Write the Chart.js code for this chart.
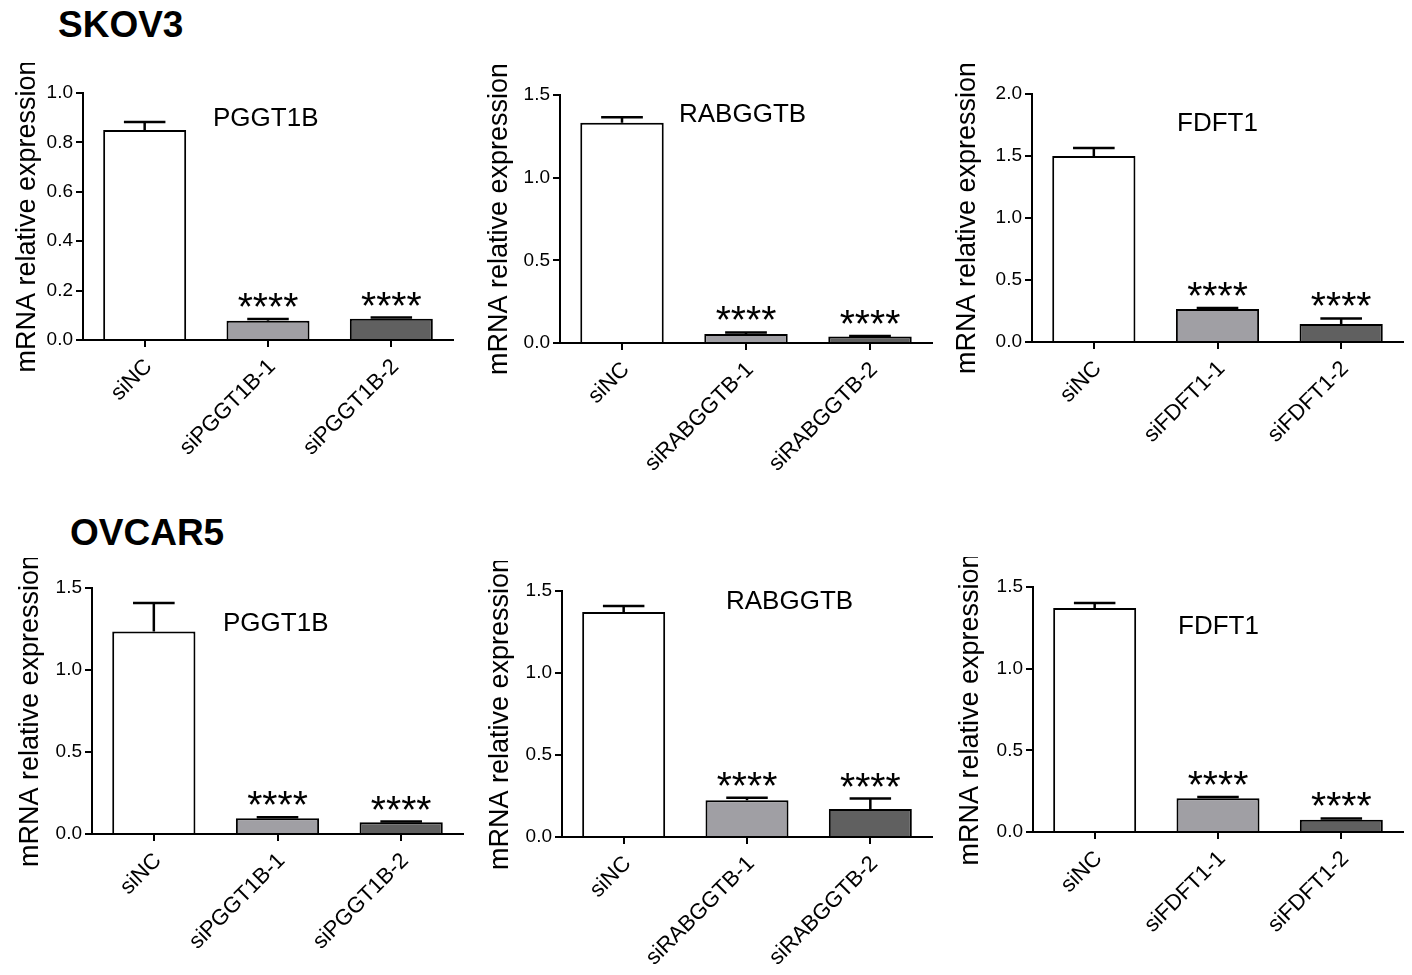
<!DOCTYPE html>
<html>
<head>
<meta charset="utf-8">
<script src="https://cdn.jsdelivr.net/npm/chart.js@4.4.1/dist/chart.umd.min.js"></script>
<style>
  body { margin: 0; width: 1412px; height: 975px; overflow: hidden; background: #fff; position: relative;
         font-family: "Liberation Sans", Arial, sans-serif; }
  canvas { position: absolute; }
  .row-title { position: absolute; font-weight: bold; font-size: 37px; line-height: 37px; color: #000; }
</style>
</head>
<body>
<div class="row-title" style="left:58px;top:6px">SKOV3</div>
<div class="row-title" style="left:70px;top:514px">OVCAR5</div>
<script>
// data
const labelsPGGT1B = ['siNC', 'siPGGT1B-1', 'siPGGT1B-2'];
const labelsRABGGTB = ['siNC', 'siRABGGTB-1', 'siRABGGTB-2'];
const labelsFDFT1 = ['siNC', 'siFDFT1-1', 'siFDFT1-2'];
const stars = ['', '****', '****'];

const skov3PGGT1B = [0.85, 0.078, 0.086];
const skov3PGGT1BErr = [0.033, 0.007, 0.005];
const skov3RABGGTB = [1.332, 0.054, 0.040];
const skov3RABGGTBErr = [0.033, 0.010, 0.003];
const skov3FDFT1 = [1.50, 0.267, 0.146];
const skov3FDFT1Err = [0.064, 0.008, 0.044];

const ovcar5PGGT1B = [1.235, 0.096, 0.071];
const ovcar5PGGT1BErr = [0.173, 0.006, 0.005];
const ovcar5RABGGTB = [1.372, 0.224, 0.171];
const ovcar5RABGGTBErr = [0.036, 0.016, 0.063];
const ovcar5FDFT1 = [1.372, 0.206, 0.075];
const ovcar5FDFT1Err = [0.030, 0.008, 0.008];

const yMaxes = [1.0, 1.5, 2.0, 1.5, 1.5, 1.5];
const ySteps = [0.2, 0.5, 0.5, 0.5, 0.5, 0.5];

Chart.defaults.font.family = '"Liberation Sans", Arial, sans-serif';
Chart.defaults.color = '#000';

const barColors = ['#ffffff', '#a09fa4', '#606060'];
const PAD_TOP = 30, PAD_RIGHT = 4, X_HEIGHT = 160;

// panel geometry (pixels on the page)
const panels = [
  { gene: 'PGGT1B',  labels: labelsPGGT1B,  values: skov3PGGT1B,   errors: skov3PGGT1BErr,   left: 11,  axisX: 83,  yTop: 93,  yBottom: 340, xEnd: 453,  geneDx: 130, geneDy: 33 },
  { gene: 'RABGGTB', labels: labelsRABGGTB, values: skov3RABGGTB,  errors: skov3RABGGTBErr,  left: 483, axisX: 560, yTop: 95,  yBottom: 343, xEnd: 932,  geneDx: 119, geneDy: 27 },
  { gene: 'FDFT1',   labels: labelsFDFT1,   values: skov3FDFT1,    errors: skov3FDFT1Err,    left: 951, axisX: 1032, yTop: 94, yBottom: 342, xEnd: 1403, geneDx: 145, geneDy: 37 },
  { gene: 'PGGT1B',  labels: labelsPGGT1B,  values: ovcar5PGGT1B,  errors: ovcar5PGGT1BErr,  left: 14,  axisX: 92,  yTop: 588, yBottom: 834, xEnd: 463,  geneDx: 131, geneDy: 43 },
  { gene: 'RABGGTB', labels: labelsRABGGTB, values: ovcar5RABGGTB, errors: ovcar5RABGGTBErr, left: 484, axisX: 562, yTop: 591, yBottom: 837, xEnd: 932,  geneDx: 164, geneDy: 18 },
  { gene: 'FDFT1',   labels: labelsFDFT1,   values: ovcar5FDFT1,   errors: ovcar5FDFT1Err,   left: 954, axisX: 1033, yTop: 587, yBottom: 832, xEnd: 1403, geneDx: 145, geneDy: 47 },
];

const errorBars = {
  id: 'errorBars',
  afterDatasetsDraw(chart) {
    const ctx = chart.ctx, y = chart.scales.y;
    const ds = chart.data.datasets[0];
    chart.getDatasetMeta(0).data.forEach((bar, i) => {
      const top = y.getPixelForValue(ds.data[i] + ds.errors[i]);
      const cap = bar.width * 0.5 / 2;
      ctx.save();
      ctx.strokeStyle = '#000';
      ctx.lineWidth = 2.5;
      ctx.beginPath();
      ctx.moveTo(bar.x, bar.y);
      ctx.lineTo(bar.x, top);
      ctx.moveTo(bar.x - cap, top);
      ctx.lineTo(bar.x + cap, top);
      ctx.stroke();
      if (ds.stars[i]) {
        ctx.fillStyle = '#000';
        ctx.font = '39px "Liberation Sans", Arial, sans-serif';
        ctx.textAlign = 'center';
        ctx.textBaseline = 'alphabetic';
        ctx.fillText(ds.stars[i], bar.x, top + 1);
      }
      ctx.restore();
    });
  }
};

const geneLabel = {
  id: 'geneLabel',
  afterDraw(chart, args, opts) {
    const ctx = chart.ctx, area = chart.chartArea;
    ctx.save();
    ctx.fillStyle = '#000';
    ctx.font = '26px "Liberation Sans", Arial, sans-serif';
    ctx.textAlign = 'left';
    ctx.textBaseline = 'alphabetic';
    ctx.fillText(opts.text, area.left + opts.dx, area.top + opts.dy);
    ctx.restore();
  }
};

panels.forEach((p, k) => {
  const canvas = document.createElement('canvas');
  canvas.width = p.xEnd - p.left + PAD_RIGHT;
  canvas.height = PAD_TOP + (p.yBottom - p.yTop) + X_HEIGHT;
  canvas.style.left = p.left + 'px';
  canvas.style.top = (p.yTop - PAD_TOP) + 'px';
  document.body.appendChild(canvas);
  const yWidth = p.axisX - p.left;

  new Chart(canvas.getContext('2d'), {
    type: 'bar',
    data: {
      labels: p.labels,
      datasets: [{
        data: p.values,
        errors: p.errors,
        stars: stars,
        backgroundColor: barColors,
        borderColor: '#000',
        borderWidth: 2,
        borderSkipped: 'start',
        barPercentage: 0.673,
        categoryPercentage: 1
      }]
    },
    options: {
      responsive: false,
      animation: false,
      layout: { padding: { top: PAD_TOP, right: PAD_RIGHT, left: 0, bottom: 0 } },
      plugins: {
        legend: { display: false },
        tooltip: { enabled: false },
        geneLabel: { text: p.gene, dx: p.geneDx, dy: p.geneDy }
      },
      scales: {
        x: {
          grid: { offset: false, drawOnChartArea: false, tickLength: 7, color: '#000', lineWidth: 2 },
          border: { color: '#000', width: 2 },
          ticks: { autoSkip: false, minRotation: 45, maxRotation: 45, font: { size: 22 }, padding: 7, labelOffset: 4 },
          afterFit(s) { s.height = X_HEIGHT; }
        },
        y: {
          min: 0,
          max: yMaxes[k],
          ticks: { stepSize: ySteps[k], callback: v => v.toFixed(1), font: { size: 19 }, padding: 3 },
          grid: { drawOnChartArea: false, tickLength: 7, color: '#000', lineWidth: 2 },
          border: { color: '#000', width: 2 },
          title: { display: true, text: 'mRNA relative expression', font: { size: 27 }, padding: 0 },
          afterFit(s) { s.width = yWidth; }
        }
      }
    },
    plugins: [errorBars, geneLabel]
  });
});
</script>
</body>
</html>
